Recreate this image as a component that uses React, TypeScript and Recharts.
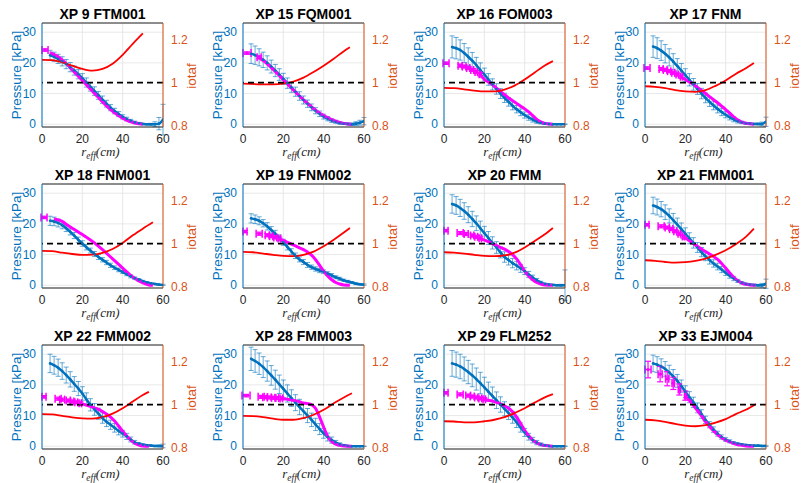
import React from "react";
import {
  ComposedChart,
  Line,
  Scatter,
  XAxis,
  YAxis,
  CartesianGrid,
  ReferenceLine,
  ErrorBar,
} from "recharts";

// one entry per panel, row by row
const TITLES = [
  "XP 9 FTM001", "XP 15 FQM001", "XP 16 FOM003", "XP 17 FNM",
  "XP 18 FNM001", "XP 19 FNM002", "XP 20 FMM", "XP 21 FMM001",
  "XP 22 FMM002", "XP 28 FMM003", "XP 29 FLM252", "XP 33 EJM004",
];

// blue pressure profile, r_eff = 4..60 cm
const BLUE_R = [4, 6, 8, 10, 12, 14, 16, 18, 20, 22, 24, 26, 28, 30, 32, 34, 36, 38, 40, 42, 44, 46, 48, 50, 52, 54, 56, 58, 60];

const BLUE_P = [
  [22.5, 22, 21.3, 20.5, 19.6, 18.6, 17.5, 16.3, 15, 13.6, 12.2, 10.8, 9.4, 8, 6.7, 5.4, 4.3, 3.3, 2.4, 1.7, 1.1, 0.6, 0.3, 0.1, 0, 0, 0, 0.2, 1.5],
  [23, 22.5, 21.8, 21, 20, 18.8, 17.5, 16.2, 14.8, 13.4, 12, 10.6, 9.2, 7.9, 6.7, 5.5, 4.4, 3.4, 2.5, 1.8, 1.2, 0.8, 0.4, 0.2, 0.1, 0, 0.2, 0.5, 1],
  [25.2, 24.8, 24.2, 23.2, 22, 20.7, 19.3, 17.7, 16.2, 14.6, 13, 11.5, 10, 8.6, 7.3, 6, 4.9, 3.9, 3, 2.2, 1.5, 0.9, 0.5, 0.2, 0.1, 0, 0, 0, 0],
  [25.3, 24.8, 24, 23, 21.8, 20.4, 19, 17.5, 16, 14.5, 13, 11.5, 10, 8.6, 7.3, 6.1, 5, 4, 3.1, 2.3, 1.6, 1, 0.6, 0.3, 0.2, 0.1, 0.1, 0.1, 0.8],
  [21, 20.8, 20.3, 19.6, 18.6, 17.4, 16.2, 14.8, 13.6, 12.4, 11.3, 10.2, 9.2, 8.3, 7.4, 6.5, 5.7, 5, 4.3, 3.6, 2.9, 2.3, 1.8, 1.3, 0.9, 0.6, 0.4, 0.2, 0.1],
  [21.8, 21.5, 21, 20.2, 19.2, 18, 16.8, 15.4, 14, 12.5, 11, 9.6, 8.4, 7.6, 6.6, 5.9, 5.3, 4.8, 4.4, 3.8, 3.2, 2.6, 2.1, 1.6, 1.2, 0.9, 0.5, 0.3, 0.2],
  [26.5, 26, 25.2, 24.2, 23, 21.6, 20.2, 18.6, 17, 15.4, 13.8, 12.3, 10.7, 9.2, 8.2, 7.2, 6.4, 5.5, 4.6, 3.5, 2.5, 1.6, 0.9, 0.4, 0.2, 0.1, 0, 0, 0],
  [26, 25.5, 24.8, 23.8, 22.6, 21.2, 19.8, 18.3, 16.8, 15.3, 13.8, 12.3, 10.8, 9.4, 8.2, 7.1, 6.1, 5.1, 4.1, 3.1, 2.2, 1.4, 0.8, 0.4, 0.2, 0.1, 0, 0, 0.5],
  [27, 26.4, 25.6, 24.5, 23.2, 21.8, 20.3, 18.8, 17.2, 15.3, 13.5, 12, 10.6, 9.2, 8, 7, 6, 5, 4.1, 3.2, 2.2, 1.3, 0.8, 0.5, 0.3, 0.2, 0.1, 0.1, 0.1],
  [28.5, 27.8, 26.9, 25.8, 24.5, 23.1, 21.7, 20.2, 18.7, 17.2, 15.7, 14.2, 12.8, 11.4, 10, 8.6, 7.1, 5.6, 4.2, 3, 2, 1.2, 0.6, 0.3, 0.1, 0, 0, 0, 0],
  [27, 26.6, 26, 25.2, 24.2, 23.1, 21.9, 20.6, 19.2, 17.8, 16.4, 15, 13.6, 12.2, 10.8, 9.4, 7.8, 6.1, 4.5, 3.1, 2, 1.2, 0.6, 0.3, 0.1, 0, 0, 0, 0],
  [27, 26.6, 26, 25.2, 24.1, 22.8, 21.3, 19.6, 17.8, 16, 14.3, 12.5, 10.5, 8.6, 7, 5.4, 4.1, 3, 2.2, 1.6, 1.1, 0.8, 0.6, 0.4, 0.3, 0.2, 0.2, 0.1, 0.1],
];

const BLUE_E = [
  [1.6, 1.5, 1.5, 1.5, 1.5, 1.5, 1.5, 1.5, 1.5, 1.5, 1.4, 1.4, 1.3, 1.2, 1.1, 1, 0.9, 0.8, 0.7, 0.6, 0.5, 0.4, 0.3, 0.2, 0.2, 0.3, 0.8, 2, 5],
  [3.2, 3, 2.8, 2.5, 2.3, 2.1, 2, 1.9, 1.8, 1.7, 1.6, 1.5, 1.4, 1.3, 1.2, 1.1, 1, 0.9, 0.8, 0.7, 0.6, 0.5, 0.4, 0.3, 0.3, 0.4, 0.6, 0.8, 1.2],
  [3.6, 3.5, 3.3, 3.1, 2.9, 2.7, 2.5, 2.3, 2.1, 1.9, 1.8, 1.7, 1.6, 1.5, 1.4, 1.3, 1.2, 1.1, 1, 0.9, 0.8, 0.6, 0.4, 0.3, 0.2, 0.1, 0.1, 0.1, 0.1],
  [3.5, 3.4, 3.2, 3, 2.8, 2.6, 2.4, 2.3, 2.1, 2, 1.9, 1.8, 1.7, 1.6, 1.5, 1.4, 1.3, 1.2, 1, 0.9, 0.8, 0.6, 0.4, 0.3, 0.2, 0.2, 0.3, 0.6, 1.5],
  [1.5, 1.4, 1.3, 1.2, 1.1, 1, 1, 0.9, 0.9, 0.9, 0.8, 0.8, 0.8, 0.7, 0.7, 0.7, 0.6, 0.6, 0.5, 0.5, 0.5, 0.4, 0.4, 0.3, 0.3, 0.2, 0.2, 0.2, 0.2],
  [1.5, 1.4, 1.3, 1.2, 1.2, 1.1, 1.1, 1, 1, 1, 0.9, 0.9, 0.8, 0.8, 0.8, 0.7, 0.7, 0.7, 0.6, 0.6, 0.6, 0.5, 0.5, 0.4, 0.4, 0.3, 0.3, 0.2, 0.2],
  [3, 2.9, 2.8, 2.7, 2.6, 2.5, 2.4, 2.3, 2.2, 2.1, 2, 1.9, 1.8, 1.7, 1.6, 1.5, 1.4, 1.3, 1.1, 1, 0.8, 0.6, 0.4, 0.3, 0.2, 0.2, 0.2, 0.3, 5],
  [2.7, 2.6, 2.5, 2.4, 2.3, 2.2, 2.1, 2, 1.9, 1.8, 1.7, 1.6, 1.5, 1.4, 1.3, 1.2, 1.1, 1, 0.9, 0.8, 0.7, 0.5, 0.4, 0.3, 0.2, 0.2, 0.3, 0.6, 1.5],
  [3, 2.9, 2.8, 2.7, 2.6, 2.5, 2.4, 2.3, 2.2, 2.1, 2, 1.9, 1.8, 1.7, 1.6, 1.5, 1.4, 1.3, 1.1, 1, 0.8, 0.6, 0.4, 0.3, 0.2, 0.2, 0.2, 0.3, 0.6],
  [3.8, 3.7, 3.5, 3.4, 3.3, 3.2, 3.1, 3, 2.9, 2.8, 2.7, 2.6, 2.5, 2.4, 2.3, 2.2, 2, 1.8, 1.6, 1.3, 1, 0.7, 0.5, 0.3, 0.2, 0.1, 0.1, 0.1, 0.1],
  [4.2, 4.1, 4, 3.9, 3.8, 3.7, 3.6, 3.5, 3.3, 3.1, 2.9, 2.7, 2.5, 2.3, 2.1, 1.9, 1.7, 1.5, 1.3, 1.1, 0.9, 0.7, 0.5, 0.3, 0.2, 0.1, 0.1, 0.1, 0.1],
  [2.7, 2.6, 2.5, 2.4, 2.3, 2.2, 2.1, 2, 1.9, 1.8, 1.7, 1.6, 1.4, 1.2, 1, 0.9, 0.8, 0.7, 0.6, 0.5, 0.4, 0.3, 0.3, 0.2, 0.2, 0.2, 0.2, 0.2, 0.2],
];

// magenta: sparse inner points with error bars
const MAG_S_R = [
  [1.5], [2, 8], [1, 8, 10, 12, 14, 16, 18], [1, 8, 10, 12, 14, 16, 18],
  [1], [1, 8, 12, 14, 16, 18], [1, 8, 11, 14, 16, 18], [1, 8, 11, 13, 15, 17, 19],
  [1, 8, 10, 13, 15, 17, 19], [1.5, 9, 11, 13, 15, 17, 19], [1, 8, 12, 14, 16, 18, 20], [1.5, 7.5, 11, 14, 17, 20],
];
const MAG_S_P = [
  [24.2], [23.2, 21.8], [19.9, 19.1, 18.8, 18.3, 17.7, 17, 16.3], [18.3, 18, 17.7, 17.3, 16.8, 16.2, 15.5],
  [22.1], [17.5, 16.8, 16.3, 16, 15.6, 15.2], [17.8, 17, 16.7, 16.2, 15.8, 15.3], [19.7, 19.2, 18.8, 18.3, 17.6, 16.8, 15.9],
  [16.1, 15.5, 15.2, 14.9, 14.6, 14.3, 14], [16.5, 16.1, 16, 15.9, 15.8, 15.7, 15.6], [17.4, 16.9, 16.5, 16.2, 15.9, 15.6, 15.3], [25, 23.5, 22, 20.5, 18.5, 16.5],
];
const MAG_S_EX = [
  [1.5], [2, 1], [1.5, 1, 0.9, 0.8, 0.7, 0.6, 0.5], [1.5, 1, 0.9, 0.8, 0.7, 0.6, 0.5],
  [1.5], [1, 1.5, 1, 0.8, 0.7, 0.6], [1, 1.5, 1, 0.8, 0.7, 0.6], [1, 1.5, 1, 0.8, 0.7, 0.6, 0.5],
  [1, 1.5, 1.2, 1, 0.8, 0.7, 0.6], [2, 1.5, 1.2, 1, 0.8, 0.7, 0.6], [1, 1.5, 1.2, 1, 0.8, 0.7, 0.6], [1.5, 1, 0.8, 0.6, 0.5, 0.4],
];
const MAG_S_EY = [
  [0.4], [0.4, 0.5], [0.4, 0.5, 0.5, 0.5, 0.5, 0.5, 0.5], [0.4, 0.5, 0.5, 0.5, 0.5, 0.5, 0.5],
  [0.4], [0.4, 0.5, 0.5, 0.5, 0.5, 0.5], [0.4, 0.5, 0.5, 0.5, 0.5, 0.5], [0.4, 0.5, 0.5, 0.5, 0.5, 0.5, 0.5],
  [0.4, 0.5, 0.5, 0.5, 0.5, 0.5, 0.5], [0.4, 0.5, 0.5, 0.5, 0.5, 0.5, 0.5], [0.4, 0.5, 0.5, 0.5, 0.5, 0.5, 0.5], [2.7, 2.5, 2.3, 2, 1.8, 1.5],
];

// magenta: dense outer part, drawn as a thick line
const MAG_L_R = [
  [4, 8, 12, 16, 20, 24, 28, 32, 36, 40, 44, 48, 50],
  [8, 12, 16, 20, 24, 28, 32, 36, 40, 44, 48, 52, 54],
  [18, 20, 22, 24, 26, 28, 30, 32, 34, 36, 38, 40, 42, 44, 46, 48, 50, 52, 54],
  [18, 20, 22, 24, 26, 28, 30, 32, 34, 36, 38, 40, 42, 44, 46, 48, 50, 54],
  [6, 8, 10, 12, 15, 20, 25, 30, 35, 40, 45, 50, 53, 55],
  [18, 20, 22, 24, 26, 28, 30, 32, 34, 36, 38, 40, 42, 44, 46, 48, 50, 53],
  [18, 20, 22, 24, 26, 28, 30, 32, 34, 36, 38, 40, 42, 44, 46, 48, 50, 54],
  [19, 21, 24, 26, 28, 30, 32, 34, 36, 38, 40, 42, 44, 46, 48, 50, 52, 55],
  [19, 22, 24, 26, 28, 30, 32, 34, 36, 38, 40, 42, 44, 46, 48, 50, 53],
  [19, 22, 24, 26, 28, 30, 32, 34, 36, 38, 40, 42, 44, 46, 48, 50, 54],
  [20, 22, 24, 26, 28, 30, 32, 34, 36, 38, 40, 42, 44, 46, 48, 50, 54],
  [20, 22, 24, 26, 28, 30, 32, 34, 36, 38, 40, 42, 44, 46, 48, 50, 54],
];
const MAG_L_P = [
  [23.3, 22, 19.8, 17, 14.3, 11.5, 8.7, 6, 3.7, 2, 0.8, 0.15, 0],
  [21.8, 19.7, 17.2, 14.5, 11.8, 9.2, 6.8, 4.6, 2.8, 1.5, 0.6, 0.1, 0],
  [16.3, 14.6, 13.8, 12.9, 11.8, 10.7, 9.6, 8.6, 7.7, 6.8, 5.9, 5, 4, 2.8, 1.6, 0.8, 0.3, 0.05, 0],
  [15.5, 14.6, 13.8, 13, 12, 11, 10, 9, 8, 7, 5.9, 4.8, 3.6, 2.4, 1.4, 0.7, 0.3, 0],
  [21.6, 21.3, 20.8, 19.9, 18.6, 16.5, 14.3, 11.6, 8.6, 5.6, 2.7, 0.8, 0.1, 0],
  [15.2, 14.6, 14, 13.4, 12.8, 12.2, 11.6, 10.8, 9.8, 8.3, 6.5, 4.6, 3, 1.8, 0.9, 0.4, 0.1, 0],
  [15.3, 14.7, 14.2, 13.6, 13, 12.3, 11.8, 11, 10, 8.6, 6.7, 4.6, 3, 1.8, 0.9, 0.4, 0.1, 0],
  [15.9, 15, 13.6, 12.7, 11.8, 11, 10.2, 9.4, 8.4, 7.1, 5.6, 4, 2.6, 1.5, 0.7, 0.3, 0.1, 0],
  [14, 13.4, 13, 12.5, 12, 11.3, 10.5, 9.5, 8.2, 6.6, 4.9, 3.3, 2, 1, 0.4, 0.1, 0],
  [15.6, 15.3, 15.1, 14.8, 14.5, 14.1, 13.9, 13.5, 12.3, 9.5, 6.2, 3.2, 1.5, 0.7, 0.3, 0.1, 0],
  [15.3, 15, 14.7, 14.3, 13.8, 13.2, 12.4, 11.2, 9.5, 7.4, 5.2, 3.4, 2, 1.1, 0.5, 0.2, 0],
  [16.5, 15, 13.3, 11.6, 9.9, 8, 6.4, 5, 3.8, 2.8, 2, 1.4, 0.9, 0.5, 0.3, 0.1, 0],
];

// red iotaf profile (right axis)
const IOTA_R = [
  [0, 5, 10, 15, 20, 25, 30, 35, 40, 45, 50],
  [0, 10, 15, 20, 25, 30, 35, 40, 45, 50, 53],
  [0, 5, 10, 15, 20, 25, 30, 35, 40, 45, 50, 54],
  [0, 5, 10, 15, 20, 25, 30, 35, 40, 45, 50, 54],
  [0, 5, 10, 15, 20, 25, 30, 35, 40, 45, 50, 55],
  [0, 5, 10, 15, 20, 25, 30, 35, 40, 45, 50, 53],
  [0, 5, 10, 15, 20, 25, 30, 35, 40, 45, 50, 54],
  [0, 5, 10, 15, 20, 25, 30, 35, 40, 45, 50, 54],
  [0, 5, 10, 15, 20, 25, 30, 35, 40, 45, 50, 53],
  [0, 5, 10, 15, 20, 25, 30, 35, 40, 45, 50, 54],
  [0, 5, 10, 15, 20, 25, 30, 35, 40, 45, 50, 54],
  [0, 5, 10, 15, 20, 25, 30, 35, 40, 45, 50, 55],
];
const IOTA_V = [
  [1.105, 1.104, 1.093, 1.078, 1.063, 1.055, 1.063, 1.087, 1.128, 1.179, 1.227],
  [0.995, 0.992, 0.992, 0.995, 1.005, 1.023, 1.049, 1.078, 1.11, 1.145, 1.163],
  [0.976, 0.974, 0.969, 0.963, 0.959, 0.959, 0.968, 0.986, 1.014, 1.047, 1.079, 1.099],
  [0.983, 0.98, 0.974, 0.965, 0.959, 0.957, 0.965, 0.985, 1.01, 1.04, 1.066, 1.09],
  [0.966, 0.965, 0.958, 0.952, 0.948, 0.949, 0.957, 0.975, 1.003, 1.038, 1.069, 1.098],
  [0.962, 0.96, 0.954, 0.948, 0.943, 0.942, 0.948, 0.963, 0.988, 1.018, 1.051, 1.072],
  [0.96, 0.958, 0.954, 0.948, 0.943, 0.942, 0.945, 0.958, 0.982, 1.012, 1.043, 1.072],
  [0.923, 0.92, 0.915, 0.912, 0.914, 0.92, 0.931, 0.948, 0.969, 0.997, 1.031, 1.069],
  [0.956, 0.955, 0.948, 0.941, 0.936, 0.935, 0.942, 0.958, 0.983, 1.014, 1.044, 1.059],
  [0.948, 0.947, 0.942, 0.935, 0.93, 0.93, 0.938, 0.953, 0.976, 1.006, 1.033, 1.052],
  [0.923, 0.922, 0.918, 0.918, 0.923, 0.93, 0.942, 0.961, 0.983, 1.009, 1.033, 1.048],
  [0.93, 0.927, 0.92, 0.911, 0.903, 0.9, 0.905, 0.917, 0.933, 0.956, 0.976, 1.003],
];

const X_TICKS = [0, 20, 40, 60];
const P_TICKS = [0, 10, 20, 30];
const IOTA_TICKS = [0.8, 1, 1.2];

const BLUE = "#0072BD";
const ORANGE = "#D95319";
const MAGENTA = "#FF00FF";
const DARK = "#262626";
const FONT = '"Liberation Sans", Arial, Helvetica, sans-serif';

// plot box positions
const COL_X = [42, 243, 444, 645];
const ROW_Y = [23, 184, 345];
const BOX_W = 121;
const BOX_H = 104;
const PAD_L = 34;
const PAD_R = 34;
const PAD_T = 4;
const PAD_B = 22;

const blueDot = (p: any) => <circle cx={p.cx} cy={p.cy} r={1.3} fill={BLUE} />;
const magDot = (p: any) => <circle cx={p.cx} cy={p.cy} r={1.5} fill={MAGENTA} />;

function Panel({ i }: { i: number }) {
  const col = i % 4;
  const row = Math.floor(i / 4);
  const blue = BLUE_R.map((x, k) => ({ x, y: BLUE_P[i][k], e: BLUE_E[i][k] }));
  const magPts = MAG_S_R[i].map((x, k) => ({
    x,
    y: MAG_S_P[i][k],
    ex: MAG_S_EX[i][k],
    ey: MAG_S_EY[i][k],
  }));
  const magLine = MAG_L_R[i].map((x, k) => ({ x, y: MAG_L_P[i][k] }));
  const iota = IOTA_R[i].map((x, k) => ({ x, y: IOTA_V[i][k] }));

  return (
    <div style={{ position: "absolute", left: COL_X[col] - PAD_L, top: ROW_Y[row] - PAD_T }}>
      <ComposedChart
        width={BOX_W + PAD_L + PAD_R}
        height={BOX_H + PAD_T + PAD_B}
        margin={{ top: PAD_T, right: 0, bottom: 0, left: 0 }}
      >
        <CartesianGrid xAxisId="x" yAxisId="l" stroke="#e2e2e2" strokeWidth={0.8} />
        <XAxis
          xAxisId="x"
          dataKey="x"
          type="number"
          domain={[0, 60]}
          ticks={X_TICKS}
          interval={0}
          allowDataOverflow
          height={PAD_B}
          tickLine={false}
          tickSize={0}
          tickMargin={7}
          axisLine={{ stroke: DARK }}
          tick={{ fill: DARK, fontSize: 12, fontFamily: FONT }}
        />
        <YAxis
          yAxisId="l"
          type="number"
          domain={[-0.9, 33]}
          ticks={P_TICKS}
          interval={0}
          allowDataOverflow
          width={PAD_L}
          tickLine={false}
          tickSize={0}
          tickMargin={6}
          axisLine={{ stroke: BLUE }}
          tick={{ fill: BLUE, fontSize: 12, fontFamily: FONT }}
        />
        <YAxis
          yAxisId="r"
          orientation="right"
          type="number"
          domain={[0.795, 1.275]}
          ticks={IOTA_TICKS}
          interval={0}
          allowDataOverflow
          width={PAD_R}
          tickLine={false}
          tickSize={0}
          tickMargin={8}
          axisLine={{ stroke: ORANGE }}
          tick={{ fill: ORANGE, fontSize: 12, fontFamily: FONT }}
        />
        <ReferenceLine xAxisId="x" yAxisId="l" y={33} stroke={DARK} strokeWidth={1} />
        <Scatter xAxisId="x" yAxisId="l" data={blue} dataKey="y" shape={blueDot} isAnimationActive={false}>
          <ErrorBar dataKey="e" direction="y" width={2.5} stroke={BLUE} strokeOpacity={0.6} strokeWidth={1} isAnimationActive={false} />
        </Scatter>
        <Line
          xAxisId="x"
          yAxisId="l"
          data={blue}
          dataKey="y"
          type="monotone"
          stroke={BLUE}
          strokeWidth={2.5}
          dot={false}
          isAnimationActive={false}
        />
        <Scatter xAxisId="x" yAxisId="l" data={magPts} dataKey="y" shape={magDot} isAnimationActive={false}>
          <ErrorBar dataKey="ex" direction="x" width={4} stroke={MAGENTA} strokeWidth={1.5} isAnimationActive={false} />
          <ErrorBar dataKey="ey" direction="y" width={3} stroke={MAGENTA} strokeWidth={1.2} isAnimationActive={false} />
        </Scatter>
        <Line
          xAxisId="x"
          yAxisId="l"
          data={magLine}
          dataKey="y"
          type="monotone"
          stroke={MAGENTA}
          strokeWidth={3}
          dot={false}
          isAnimationActive={false}
        />
        <Line
          xAxisId="x"
          yAxisId="r"
          data={iota}
          dataKey="y"
          type="monotone"
          stroke="#FF0000"
          strokeWidth={1.8}
          dot={false}
          isAnimationActive={false}
        />
        <ReferenceLine xAxisId="x" yAxisId="r" y={1} stroke="#000" strokeWidth={1.6} strokeDasharray="6 4" />
      </ComposedChart>
    </div>
  );
}

function Labels() {
  return (
    <svg width={806} height={483} style={{ position: "absolute", left: 0, top: 0, pointerEvents: "none" }}>
      {TITLES.map((t, i) => {
        const bx = COL_X[i % 4];
        const by = ROW_Y[Math.floor(i / 4)];
        const cx = bx + BOX_W / 2;
        const cy = by + BOX_H / 2;
        return (
          <g key={t} fontFamily={FONT}>
            <text x={cx} y={by - 4} textAnchor="middle" fontSize={14} fontWeight="bold" fill="#000">
              {t}
            </text>
            <text
              x={bx - 26}
              y={cy}
              textAnchor="middle"
              dominantBaseline="central"
              fontSize={13.5}
              fill={BLUE}
              transform={`rotate(-90 ${bx - 26} ${cy})`}
            >
              Pressure [kPa]
            </text>
            <text
              x={bx + BOX_W + 28}
              y={cy + 1}
              textAnchor="middle"
              dominantBaseline="central"
              fontSize={13.5}
              fill={ORANGE}
              transform={`rotate(-90 ${bx + BOX_W + 28} ${cy + 1})`}
            >
              iotaf
            </text>
            <text
              x={cx - 2}
              y={by + 133}
              textAnchor="middle"
              fontSize={13}
              fontStyle="italic"
              fontFamily='"Liberation Serif", "DejaVu Serif", serif'
              fill={DARK}
            >
              <tspan>r</tspan>
              <tspan dy={2.5} fontSize={9.5}>eff</tspan>
              <tspan dy={-2.5}>(cm)</tspan>
            </text>
          </g>
        );
      })}
    </svg>
  );
}

export default function App() {
  return (
    <div
      style={{
        position: "absolute",
        left: 0,
        top: 0,
        width: 806,
        height: 483,
        background: "#fff",
        fontFamily: FONT,
      }}
    >
      {TITLES.map((t, i) => (
        <Panel key={t} i={i} />
      ))}
      <Labels />
    </div>
  );
}
